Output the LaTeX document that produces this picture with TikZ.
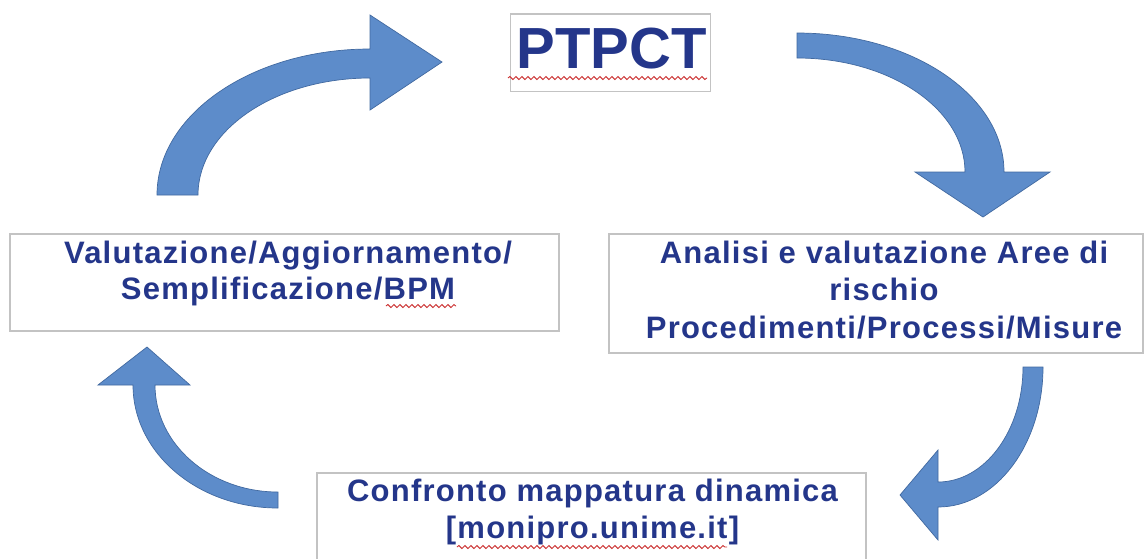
\documentclass[tikz,border=0pt]{standalone}
\usepackage{fontspec}
\setmainfont{Liberation Sans}
\newfontfamily\lblfont[LetterSpace=4]{Liberation Sans}
\usetikzlibrary{decorations.pathmorphing}
\definecolor{txtblue}{RGB}{36,54,138}
\definecolor{arrfill}{RGB}{93,140,202}
\definecolor{arredge}{RGB}{65,105,160}
\definecolor{boxline}{RGB}{195,195,195}
\definecolor{wavyred}{RGB}{205,55,55}
\begin{document}
\begin{tikzpicture}[x=1pt,y=-1pt,
  frame/.style={draw=boxline,line width=1.1pt,rectangle,inner sep=0pt},
  lbl/.style={text=txtblue,font=\lblfont\bfseries\fontsize{31}{36}\selectfont,anchor=base,inner sep=0pt},
  title/.style={text=txtblue,font=\bfseries\fontsize{58}{60}\selectfont,anchor=base,inner sep=0pt},
  blockarrow/.style={fill=arrfill,draw=arredge,line width=0.7pt,line join=miter},
  spell/.style={draw=wavyred,line width=0.9pt,decorate,decoration={snake,amplitude=1.5pt,segment length=6pt}}]
\clip (0,0) rectangle (1147,558);
\fill[white] (0,0) rectangle (1147,558);

% boxes
\node[frame,minimum width=200pt,minimum height=77.7pt] (top) at (610.7,52.8) {};
\node[frame,minimum width=549pt,minimum height=97pt] (left) at (284.5,282.5) {};
\node[frame,minimum width=534pt,minimum height=119pt] (right) at (876,293.5) {};
\node[frame,minimum width=549pt,minimum height=117pt] (bottom) at (591.5,531.5) {};

% texts
\node[title] (t0) at (611.5,68.3) {PTPCT};
\node[lbl] (l1) at (288,263) {Valutazione/Aggiornamento/};
\node[lbl] (l2) at (288,299.5) {Semplificazione/BPM};
\node[lbl] (r1) at (884,263) {Analisi e valutazione Aree di};
\node[lbl] (r2) at (884,300.5) {rischio};
\node[lbl] (r3) at (884,338) {Procedimenti/Processi/Misure};
\node[lbl] (b1) at (592.5,501) {Confronto mappatura dinamica};
\node[lbl] (b2) at (592.5,538) {[monipro.unime.it]};

% spell-check underlines
\draw[spell] (508,78) -- (707,78);
\draw[spell] (386,306) -- (456,306);
\draw[spell] (457,547) -- (727,547);

% block arrows
\draw[blockarrow] (157,195) arc[start angle=180,end angle=270,x radius=213,y radius=146]
  -- (370,15) -- (442,62) -- (370,110) -- (370,78)
  arc[start angle=270,end angle=180,x radius=172,y radius=117] -- cycle;
\draw[blockarrow] (797,33) arc[start angle=270,end angle=360,x radius=207,y radius=139]
  -- (1050,172) -- (983,217) -- (915,172) -- (965,172)
  arc[start angle=360,end angle=270,x radius=168,y radius=114] -- cycle;
\draw[blockarrow] (1043,367) arc[start angle=0,end angle=90,x radius=105,y radius=140]
  -- (938,540) -- (900,495) -- (938,450) -- (938,482)
  arc[start angle=90,end angle=0,x radius=85,y radius=115] -- cycle;
\draw[blockarrow] (278,508) arc[start angle=90,end angle=180,x radius=145,y radius=123]
  -- (98,385) -- (147,347) -- (190,385) -- (155,385)
  arc[start angle=180,end angle=90,x radius=123,y radius=107] -- cycle;
\end{tikzpicture}
\end{document}
